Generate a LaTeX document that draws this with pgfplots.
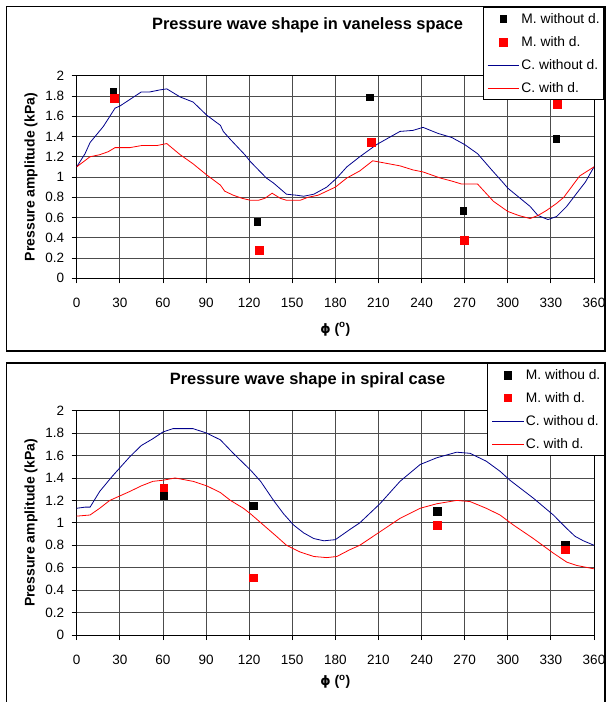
\documentclass[border=0pt]{standalone}
\usepackage{pgfplots}
\pgfplotsset{compat=1.18}
\usepackage{fontspec}
\setmainfont{Liberation Sans}
\newfontfamily\dejavu{DejaVu Sans}
\definecolor{cblue}{RGB}{0,0,140}
\definecolor{cred}{RGB}{255,0,0}
\pgfplotsset{
  panel/.style={
    scale only axis, width=517.3pt,
    xmin=0, xmax=360, ymin=0, ymax=2,
    xtick={0,30,60,90,120,150,180,210,240,270,300,330,360},
    ytick={0,0.2,0.4,0.6,0.8,1,1.2,1.4,1.6,1.8,2},
    grid=major, major grid style={draw=black!70, line width=0.8pt},
    axis line style={black, line width=0.9pt},
    tick align=outside, tick pos=left, major tick length=5pt,
    tick style={black, line width=0.8pt},
    /pgf/number format/assume math mode=true,
    ticklabel style={font=\fontsize{13.5}{15}\selectfont},
    xticklabel style={anchor=center, yshift=-20pt},
    yticklabel style={anchor=east, xshift=-4pt},
    ylabel={Pressure amplitude (kPa)},
    ylabel style={at={(rel axis cs:-0.0883,0.5)}, anchor=center, font=\fontsize{14}{16}\selectfont\bfseries},
    xlabel={{\dejavu\fontsize{13}{15}\selectfont\bfseries ϕ} (\textsuperscript{o})},
    title style={anchor=base, font=\fontsize{16.4}{18}\selectfont\bfseries},
    legend cell align=left,
    legend style={anchor=north west, draw=black, line width=0.9pt, fill=white,
      font=\fontsize{13.8}{16}\selectfont, inner sep=4pt, row sep=8pt, column sep=1.7pt,
      nodes={inner sep=0pt, text height=12pt, text depth=3pt}},
    legend image code/.code={\draw[#1] (0pt,0pt) -- (31.6pt,0pt);},
  },
  mk/.style={only marks, color=#1, mark=square*, mark options={solid, draw=#1, fill=#1, line width=0pt},
    legend image code/.code={\path (0pt,0pt) (31.6pt,0pt); \draw[##1] plot coordinates {(15.8pt,0pt)};}},
}
\begin{document}
\begin{tikzpicture}[x=1pt,y=1pt]
\fill[white] (0,0) rectangle (607,702);
\path[use as bounding box] (0,0) rectangle (607,702);
% ---------------- top panel ----------------
\begin{axis}[panel, at={(76.7pt,423.7pt)}, anchor=south west, height=202.6pt,
  title={Pressure wave shape in vaneless space},
  title style={at={(rel axis cs:0.4462,1.196)}},
  xlabel style={at={(rel axis cs:0.5,-0.2517)}, anchor=center, font=\fontsize{14}{16}\selectfont\bfseries},
  legend style={at={(rel axis cs:0.785,1.3376)}}]
\addplot[cblue, line width=0.8pt, forget plot] table {
0 1.10
5.8 1.23
9.3 1.34
18.6 1.50
26.7 1.68
30 1.70
45 1.84
51 1.84
58 1.86
62.7 1.87
72 1.79
81 1.74
90.5 1.61
100 1.51
102 1.45
107 1.37
117 1.22
121 1.15
132 0.99
137 0.94
146 0.83
153 0.82
158 0.81
165 0.83
174 0.90
181 0.99
188 1.10
197 1.20
208.7 1.32
225 1.45
234 1.46
241 1.49
251.5 1.43
261 1.39
270 1.32
279 1.23
288.8 1.07
297 0.94
300 0.89
315.5 0.71
321 0.62
328 0.58
334 0.61
341 0.71
348 0.84
354 0.95
360 1.10
};
\addplot[cred, line width=0.8pt, forget plot] table {
0 1.10
9.3 1.20
16 1.22
22 1.25
26.7 1.29
37 1.29
45 1.31
55.7 1.31
62.7 1.33
72 1.22
81 1.13
90.5 1.02
100 0.92
103 0.86
109 0.82
115 0.79
121 0.77
126.5 0.77
131 0.79
136 0.84
141.6 0.79
146 0.77
155.5 0.77
161 0.80
168 0.82
180 0.90
188 0.99
197 1.06
206 1.16
225 1.11
234 1.07
241 1.05
253 0.99
261 0.96
268 0.93
279 0.93
290 0.76
300 0.66
307.6 0.62
315.5 0.59
321 0.62
327 0.67
334 0.74
339 0.80
350 1.01
360 1.10
};
\addplot[mk=black, mark size=3.3pt] coordinates {(25.5,1.84) (125.8,0.555) (204.3,1.786) (269.3,0.665) (334,1.378)};
\addlegendentry{M. without d.}
\addplot[mk=cred, mark size=4pt] coordinates {(26,1.77) (127,0.27) (205.2,1.34) (270,0.37) (334.7,1.72)};
\addlegendentry{M. with d.}
\addlegendimage{cblue, line width=0.8pt}
\addlegendentry{C. without d.}
\addlegendimage{cred, line width=0.8pt}
\addlegendentry{C. with d.}
\end{axis}
% ---------------- bottom panel ----------------
\begin{axis}[panel, at={(76.7pt,67pt)}, anchor=south west, height=224.3pt,
  title={Pressure wave shape in spiral case},
  title style={at={(rel axis cs:0.4462,1.0892)}},
  xlabel style={at={(rel axis cs:0.5,-0.2095)}, anchor=center, font=\fontsize{14}{16}\selectfont\bfseries},
  legend style={at={(rel axis cs:0.7937,1.2113)}}]
\addplot[cblue, line width=0.8pt, forget plot] table {
0 1.13
5.8 1.14
9.3 1.14
16 1.28
24.4 1.41
30 1.49
37 1.59
45 1.69
53 1.75
60 1.81
67 1.84
81 1.84
90.5 1.80
100 1.74
109 1.62
121 1.47
128 1.37
137 1.20
144 1.08
151 0.98
158 0.91
165 0.86
172 0.84
180 0.85
190 0.94
197 1.00
211 1.17
225 1.37
239 1.52
250.5 1.58
264.4 1.63
273.7 1.62
285 1.55
294.6 1.46
301.5 1.38
317.8 1.22
331.7 1.07
341 0.95
346.8 0.88
352.6 0.84
360 0.80
};
\addplot[cred, line width=0.8pt, forget plot] table {
0 1.06
9.3 1.07
16 1.13
23 1.20
30 1.24
37 1.28
45 1.33
53 1.37
60 1.38
68.5 1.40
81 1.37
90.5 1.33
100 1.27
107 1.20
116 1.13
121 1.08
130 0.98
139 0.88
146 0.80
155.5 0.74
165 0.70
174 0.69
181 0.70
190 0.76
197 0.80
211 0.92
225 1.04
239 1.13
250.5 1.17
264.4 1.20
273.7 1.19
285 1.13
294.6 1.07
304 0.98
317.8 0.86
331.7 0.73
341 0.65
348 0.62
360 0.59
};
\addplot[mk=black, mark size=3.9pt] coordinates {(60.8,1.24) (123,1.15) (251.2,1.10) (340.3,0.80)};
\addlegendentry{M. withou d.}
\addplot[mk=cred, mark size=3.7pt] coordinates {(60.8,1.31) (123,0.51) (251.2,0.975) (340.3,0.76)};
\addlegendentry{M. with d.}
\addlegendimage{cblue, line width=0.8pt}
\addlegendentry{C. withou d.}
\addlegendimage{cred, line width=0.8pt}
\addlegendentry{C. with d.}
\end{axis}
% panel frames
\draw[black, line width=1.3pt] (6.5,695.3) rectangle (605,351);
\draw[black, line width=1.3pt] (6.5,339) rectangle (605,-3);
\end{tikzpicture}
\end{document}
